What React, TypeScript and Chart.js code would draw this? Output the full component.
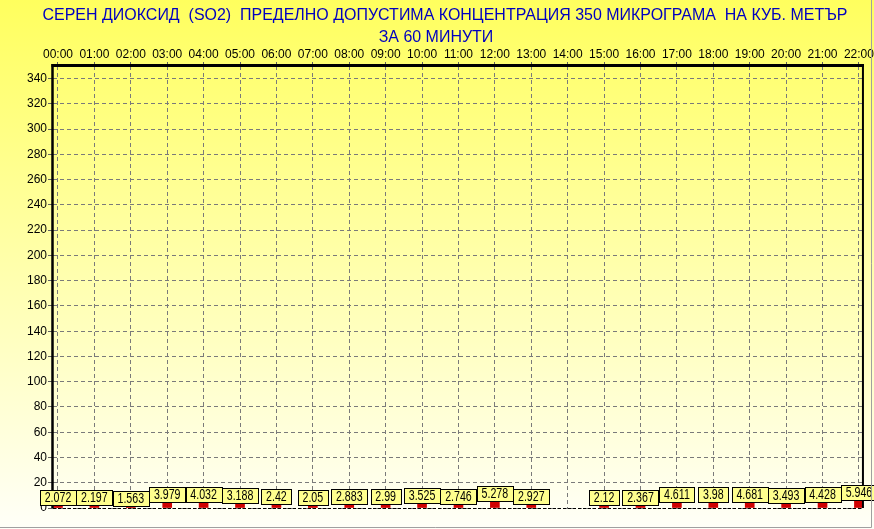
import React, { useEffect, useRef } from "react";
import { Chart, registerables } from "chart.js";

Chart.register(...registerables);

const titleLines = [
  "СЕРЕН ДИОКСИД  (SO2)  ПРЕДЕЛНО ДОПУСТИМА КОНЦЕНТРАЦИЯ 350 МИКРОГРАМА  НА КУБ. МЕТЪР",
  "ЗА 60 МИНУТИ",
];

const hours = [
  "00:00", "01:00", "02:00", "03:00", "04:00", "05:00", "06:00", "07:00",
  "08:00", "09:00", "10:00", "11:00", "12:00", "13:00", "14:00", "15:00",
  "16:00", "17:00", "18:00", "19:00", "20:00", "21:00", "22:00",
];

const values: (number | null)[] = [
  2.072, 2.197, 1.563, 3.979, 4.032, 3.188, 2.42, 2.05, 2.883, 2.99, 3.525,
  2.746, 5.278, 2.927, null, 2.12, 2.367, 4.611, 3.98, 4.681, 3.493, 4.428,
  5.946,
];

const yTicks = [0, 20, 40, 60, 80, 100, 120, 140, 160, 180, 200, 220, 240, 260, 280, 300, 320, 340];

const decorPlugin = {
  id: "decor",
  beforeDraw(chart: any) {
    const { ctx, width, height } = chart;
    ctx.save();
    const g = ctx.createLinearGradient(0, 0, 0, height);
    g.addColorStop(0, "#FFFF5E");
    g.addColorStop(1, "#FFFFF8");
    ctx.fillStyle = g;
    ctx.fillRect(0, 0, width, height);
    ctx.restore();
  },
  afterDatasetsDraw(chart: any) {
    const { ctx, chartArea, width, height } = chart;
    const { left, top, right, bottom } = chartArea;
    ctx.save();
    // frame
    ctx.strokeStyle = "#000";
    ctx.setLineDash([]);
    ctx.lineWidth = 3;
    ctx.beginPath();
    ctx.moveTo(left - 1.5, top - 0.5);
    ctx.lineTo(right + 1, top - 0.5);
    ctx.stroke();
    ctx.lineWidth = 2.5;
    ctx.beginPath();
    ctx.moveTo(left - 0.5, top - 2);
    ctx.lineTo(left - 0.5, bottom);
    ctx.stroke();
    ctx.lineWidth = 2;
    ctx.beginPath();
    ctx.moveTo(right, top - 2);
    ctx.lineTo(right, bottom);
    ctx.stroke();
    ctx.lineWidth = 1;
    ctx.setLineDash([3, 2]);
    ctx.beginPath();
    ctx.moveTo(left, bottom + 0.5);
    ctx.lineTo(right, bottom + 0.5);
    ctx.stroke();
    ctx.setLineDash([]);

    // value labels
    const meta = chart.getDatasetMeta(0);
    ctx.font = '14px "Liberation Sans", Arial, sans-serif';
    ctx.textAlign = "center";
    ctx.textBaseline = "middle";
    const sx = 0.76;
    meta.data.forEach((el: any, i: number) => {
      const v = values[i];
      if (v === null || v === undefined) return;
      const txt = String(v);
      const tw = ctx.measureText(txt).width * sx;
      const bw = Math.round(tw + 9);
      const bh = 15;
      const bx = Math.round(el.x - bw / 2) + 0.5;
      const by = Math.round(el.y - 0.5 - bh) + 0.5;
      ctx.fillStyle = "#FFFF8E";
      ctx.fillRect(bx, by, bw, bh);
      ctx.strokeStyle = "#000";
      ctx.lineWidth = 1;
      ctx.strokeRect(bx, by, bw, bh);
      ctx.save();
      ctx.translate(el.x, by + bh / 2 + 0.5);
      ctx.scale(sx, 1);
      ctx.fillStyle = "#000";
      ctx.fillText(txt, 0, 0);
      ctx.restore();
    });

    // title
    ctx.font = '17px "Liberation Sans", Arial, sans-serif';
    ctx.fillStyle = "#0000C0";
    const w1 = ctx.measureText(titleLines[0]).width;
    const ts = 805 / w1;
    const centers = [445, 436];
    const ys = [15, 37.5];
    titleLines.forEach((t, i) => {
      ctx.save();
      ctx.translate(centers[i], ys[i]);
      ctx.scale(ts, 1);
      ctx.fillText(t, 0, 0);
      ctx.restore();
    });

    // outer frame
    ctx.strokeStyle = "#A0A0A0";
    ctx.lineWidth = 1;
    ctx.beginPath();
    ctx.moveTo(0, height - 1.5);
    ctx.lineTo(width - 2.5, height - 1.5);
    ctx.lineTo(width - 2.5, 0);
    ctx.stroke();
    ctx.restore();
  },
};

export default function App() {
  const ref = useRef<HTMLCanvasElement | null>(null);
  useEffect(() => {
    document.body.style.margin = "0";
    const canvas = ref.current;
    if (!canvas) return;
    const chart = new Chart(canvas, {
      type: "bar",
      data: {
        datasets: [
          {
            data: values.map((v, i) => ({ x: i, y: v })) as any,
            backgroundColor: "#D00000",
            borderWidth: 0,
            barThickness: 9,
          },
        ],
      },
      plugins: [decorPlugin],
      options: {
        animation: false,
        responsive: false,
        devicePixelRatio: 1,
        layout: { padding: { left: 0, right: 9, top: 0, bottom: 21 } },
        plugins: {
          legend: { display: false },
          tooltip: { enabled: false },
          title: { display: false },
        },
        scales: {
          x: {
            type: "linear",
            position: "top",
            offset: false,
            min: -0.137,
            max: 22.11,
            afterBuildTicks: (scale: any) => {
              scale.ticks = hours.map((_, i) => ({ value: i }));
            },
            afterFit: (scale: any) => {
              scale.height = 66;
            },
            ticks: {
              autoSkip: false,
              maxRotation: 0,
              padding: 0,
              color: "#000",
              font: { family: '"Liberation Sans", Arial, sans-serif', size: 12 },
              callback: (v: any) => hours[Math.round(Number(v))] ?? "",
            },
            grid: {
              offset: false,
              color: "#7A7A7A",
              tickColor: "#606060",
              tickLength: 4,
              lineWidth: 1,
            },
            border: { display: false, dash: [4, 3] },
          },
          y: {
            type: "linear",
            min: 0,
            max: 350,
            afterBuildTicks: (scale: any) => {
              scale.ticks = yTicks.map((v) => ({ value: v }));
            },
            afterFit: (scale: any) => {
              scale.width = 53;
            },
            ticks: {
              padding: 1,
              color: "#000",
              font: { family: '"Liberation Sans", Arial, sans-serif', size: 12 },
            },
            grid: {
              color: "#7A7A7A",
              tickColor: "#606060",
              tickLength: 5,
              lineWidth: 1,
            },
            border: { display: false, dash: [4, 3] },
          },
        },
      } as any,
    });
    return () => chart.destroy();
  }, []);
  return (
    <div style={{ width: 874, height: 529 }}>
      <canvas ref={ref} width={874} height={529} />
    </div>
  );
}
